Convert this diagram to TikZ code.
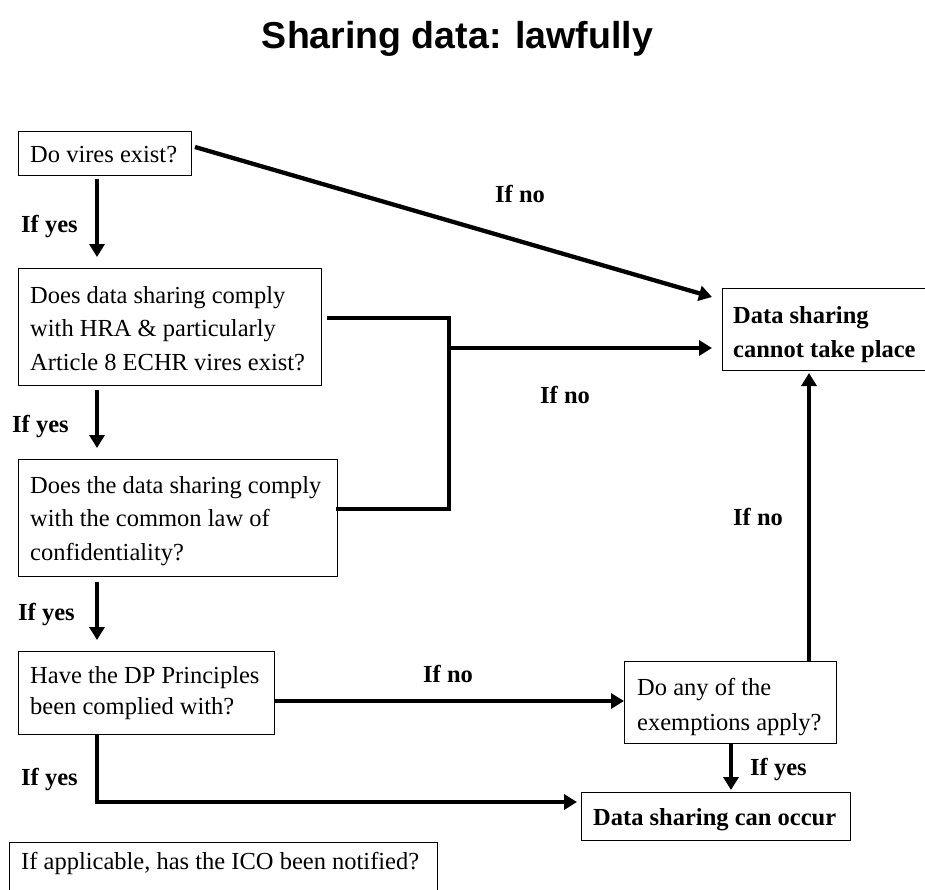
\documentclass[tikz,border=0pt]{standalone}
\usepackage{fontspec}
\setmainfont{Liberation Serif}
\newfontfamily\titlefont{Liberation Sans}
\usetikzlibrary{arrows.meta,calc}
\tikzset{
  box/.style={draw, line width=1pt, anchor=north west, inner sep=0pt},
  txt/.style={anchor=base west, inner sep=0pt, font=\fontsize{24.5pt}{34pt}\selectfont},
  lbl/.style={anchor=base west, inner sep=0pt, font=\fontsize{24.5pt}{34pt}\selectfont\bfseries},
  conn/.style={line width=4.3pt},
  arr/.style={conn, -{Triangle[length=13pt,width=15pt]}}
}
\begin{document}
\begin{tikzpicture}[x=1pt,y=-1pt]
\useasboundingbox (0,0) rectangle (925,889);
\clip (0,0) rectangle (925,889);
% title
\node[anchor=base, inner sep=0pt, font=\titlefont\bfseries\fontsize{37.5pt}{40pt}\selectfont] (title) at (457.5,48) {Sharing data: lawfully};
% boxes
\node[box, minimum width=173pt, minimum height=44pt] (b1) at (18,131) {};
\node[box, minimum width=303pt, minimum height=117pt] (b2) at (18,268) {};
\node[box, minimum width=319pt, minimum height=117pt] (b3) at (18,459) {};
\node[box, minimum width=256pt, minimum height=83pt] (b4) at (18,651) {};
\node[box, minimum width=212pt, minimum height=82pt] (ex) at (624,661) {};
\node[box, minimum width=269pt, minimum height=48pt] (can) at (581,792) {};
\node[box, minimum width=240pt, minimum height=82pt] (cannot) at (722,288) {};
\node[box, minimum width=428pt, minimum height=70pt] (ico) at (9,842) {};
% box texts
\node[txt] (t1) at (30,162) {Do vires exist?};
\node[txt] (t2) at (30,303) {\parbox[t]{300pt}{\setlength{\baselineskip}{33.5pt}Does data sharing comply\\with HRA \& particularly\\Article 8 ECHR vires exist?}};
\node[txt] (t3) at (30,493) {\parbox[t]{310pt}{\setlength{\baselineskip}{33.5pt}Does the data sharing comply\\with the common law of\\confidentiality?}};
\node[txt] (t4) at (30,683) {\parbox[t]{250pt}{\setlength{\baselineskip}{31pt}Have the DP Principles\\been complied with?}};
\node[txt] (t5) at (637,695) {\parbox[t]{200pt}{\setlength{\baselineskip}{35pt}Do any of the\\exemptions apply?}};
\node[lbl] (t6) at (593,825) {Data sharing can occur};
\node[lbl] (t7) at (733,323) {\parbox[t]{200pt}{\setlength{\baselineskip}{34pt}Data sharing\\cannot take place}};
\node[txt] (t8) at (21,869) {If applicable, has the ICO been notified?};
% helper coordinates
\coordinate (xl) at (97,0);
\coordinate (jn) at (448,348);
\coordinate (ny) at (0,701);
\coordinate (cy) at (0,802);
\coordinate (dx) at (731,0);
\coordinate (ux) at (809,0);
% connectors
\draw[arr, shorten <=3pt, shorten >=11pt] (b1.south -| xl) -- (b2.north -| xl);
\draw[arr, shorten <=4pt, shorten >=11pt] (b2.south -| xl) -- (b3.north -| xl);
\draw[arr, shorten <=5pt, shorten >=11pt] (b3.south -| xl) -- (b4.north -| xl);
\draw[arr] ($(b1.north east)+(3,16)$) -- ($(cannot.north west)+(-10,9)$);
\draw[conn] ($(b2.north east)+(5,50)$) -| ($(b3.north east)+(111,50)$) -- ($(b3.north east)+(-2,50)$);
\draw[arr, shorten >=10pt] (jn) -- (jn -| cannot.west);
\draw[arr] (b4.east |- ny) -- (ex.west |- ny);
\draw[arr, shorten >=4pt] (b4.south -| xl) |- (can.west |- cy);
\draw[arr, shorten >=2pt] (ex.south -| dx) -- (can.north -| dx);
\draw[arr, shorten >=2pt] (ex.north -| ux) -- (cannot.south -| ux);
% labels
\node[lbl] (y1) at (21,232) {If yes};
\node[lbl] (y2) at (12,432) {If yes};
\node[lbl] (y3) at (18,620) {If yes};
\node[lbl] (y4) at (21,785) {If yes};
\node[lbl] (y5) at (750,775) {If yes};
\node[lbl] (n1) at (495,202) {If no};
\node[lbl] (n2) at (540,403) {If no};
\node[lbl] (n3) at (733,525) {If no};
\node[lbl] (n4) at (423,682) {If no};
\end{tikzpicture}
\end{document}
